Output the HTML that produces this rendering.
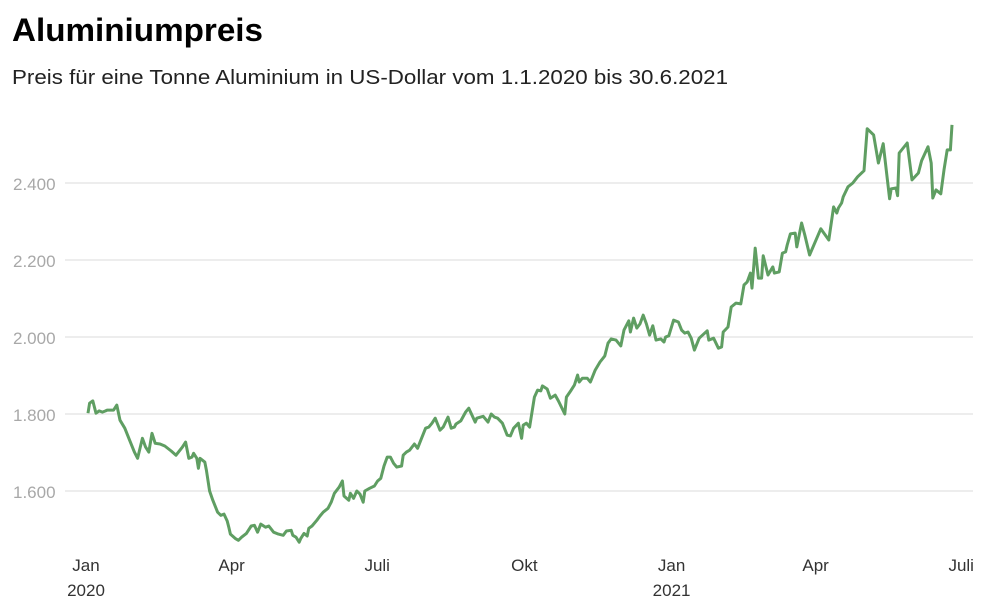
<!DOCTYPE html>
<html><head><meta charset="utf-8"><style>
body{margin:0;background:#fff;font-family:"Liberation Sans",sans-serif;}
svg{display:block}
</style></head><body>
<svg width="986" height="614">
<text x="12" y="41" font-size="32" font-weight="bold" fill="#000" textLength="251" lengthAdjust="spacingAndGlyphs">Aluminiumpreis</text>
<text x="12" y="84" font-size="20" fill="#222" textLength="716" lengthAdjust="spacingAndGlyphs">Preis für eine Tonne Aluminium in US-Dollar vom 1.1.2020 bis 30.6.2021</text>
<g id="grid"></g>
<g id="xaxis"></g>
<path id="line" fill="none" stroke="#5f9e62" stroke-width="3" stroke-linejoin="round"/>
</svg>
<script>
const days=[0,1,3,5,7,9,11,12,14,16,18,20,23,26,29,31,34,36,38,40,42,45,48,52,55,59,61,63,65,66,68,69,70,73,74,76,78,81,83,85,87,88,89,92,94,96,99,102,104,106,108,111,113,116,119,122,124,127,128,130,132,133,135,137,138,140,143,145,147,150,152,154,157,159,160,163,164,166,168,170,172,173,176,179,181,183,185,187,189,191,193,196,197,199,201,204,206,208,211,213,215,217,220,222,225,227,229,230,233,236,238,242,243,247,250,252,254,256,259,262,264,266,269,271,272,274,276,279,281,283,284,287,289,292,294,298,299,302,304,306,307,309,312,314,317,320,323,325,327,330,333,335,338,339,341,343,345,347,349,351,353,355,358,360,361,363,366,369,371,373,375,377,379,382,387,388,391,394,396,397,400,402,405,408,410,412,414,415,417,419,421,422,425,428,429,432,434,436,437,439,442,443,446,448,451,458,463,466,468,469,471,472,475,478,481,485,487,491,494,497,501,502,505,506,507,512,515,519,521,525,527,528,530,533,535,537,539,540];
const prices=[1802,1828,1834,1802,1808,1805,1808,1810,1810,1810,1823,1784,1763,1732,1701,1685,1737,1714,1701,1750,1724,1722,1717,1704,1693,1714,1727,1685,1688,1698,1685,1659,1685,1675,1654,1600,1576,1545,1537,1540,1522,1506,1488,1477,1472,1480,1490,1509,1511,1493,1514,1506,1509,1493,1488,1485,1496,1498,1485,1480,1467,1477,1490,1483,1503,1509,1524,1535,1545,1555,1571,1594,1610,1626,1587,1576,1594,1581,1600,1592,1571,1600,1607,1613,1626,1633,1665,1688,1688,1672,1662,1665,1693,1701,1706,1722,1711,1732,1763,1766,1776,1789,1758,1766,1792,1763,1766,1774,1782,1805,1815,1779,1789,1794,1779,1800,1792,1789,1776,1745,1743,1763,1776,1737,1771,1776,1766,1844,1862,1860,1873,1865,1841,1849,1834,1800,1844,1862,1875,1901,1883,1893,1893,1883,1914,1935,1951,1984,1995,1992,1977,2018,2042,2013,2049,2023,2034,2057,2034,2005,2029,1992,1995,1987,2000,2003,2044,2039,2018,2010,2013,1997,1966,1997,2016,1992,1997,1971,1974,2013,2026,2078,2088,2086,2135,2143,2166,2127,2231,2153,2153,2211,2161,2182,2166,2169,2218,2221,2239,2268,2270,2234,2296,2265,2213,2281,2252,2338,2322,2335,2348,2364,2390,2400,2416,2432,2541,2525,2452,2502,2359,2385,2387,2367,2478,2504,2408,2426,2458,2494,2452,2361,2382,2372,2434,2486,2486,2551];
const yTicks=[1600,1800,2000,2200,2400];
const yTickLabels=["1.600","1.800","2.000","2.200","2.400"];
const xTickDays=[0,91,182,274,366,456,547];
const xTickLabels=["Jan","Apr","Juli","Okt","Jan","Apr","Juli"];
const xYearLabels=["2020","","","","2021","",""];
const NS="http://www.w3.org/2000/svg";
function X(d){return 88+d*1.6;}
function Y(v){return 337-(v-2000)*0.385;}
const grid=document.getElementById('grid');
yTicks.forEach((t,i)=>{
 const l=document.createElementNS(NS,'line');
 l.setAttribute('x1',65);l.setAttribute('x2',973);l.setAttribute('y1',Y(t));l.setAttribute('y2',Y(t));
 l.setAttribute('stroke','#e2e2e2');l.setAttribute('stroke-width','1.3');
 
 
 grid.appendChild(l);
 const tx=document.createElementNS(NS,'text');
 tx.setAttribute('x',13);tx.setAttribute('y',Y(t)+7);tx.setAttribute('font-size','17');tx.setAttribute('fill','#a8a8a8');
 tx.textContent=yTickLabels[i];
 
 
 grid.appendChild(tx);
});
const xa=document.getElementById('xaxis');
xTickDays.forEach((d,i)=>{
 const tx=document.createElementNS(NS,'text');
 tx.setAttribute('x',X(d)-2);tx.setAttribute('y',571);tx.setAttribute('font-size','17');tx.setAttribute('fill','#333');tx.setAttribute('text-anchor','middle');
 tx.textContent=xTickLabels[i];
 
 
 xa.appendChild(tx);
 if(xYearLabels[i]){
  const ty=document.createElementNS(NS,'text');
  ty.setAttribute('x',X(d)-2);ty.setAttribute('y',596);ty.setAttribute('font-size','17');ty.setAttribute('fill','#333');ty.setAttribute('text-anchor','middle');
  ty.textContent=xYearLabels[i];
  
  
  xa.appendChild(ty);
 }
});
document.getElementById('line').setAttribute('d',days.map((d,i)=>(i?'L':'M')+X(d).toFixed(1)+' '+Y(prices[i]).toFixed(1)).join(' '));
</script>
</body></html>
